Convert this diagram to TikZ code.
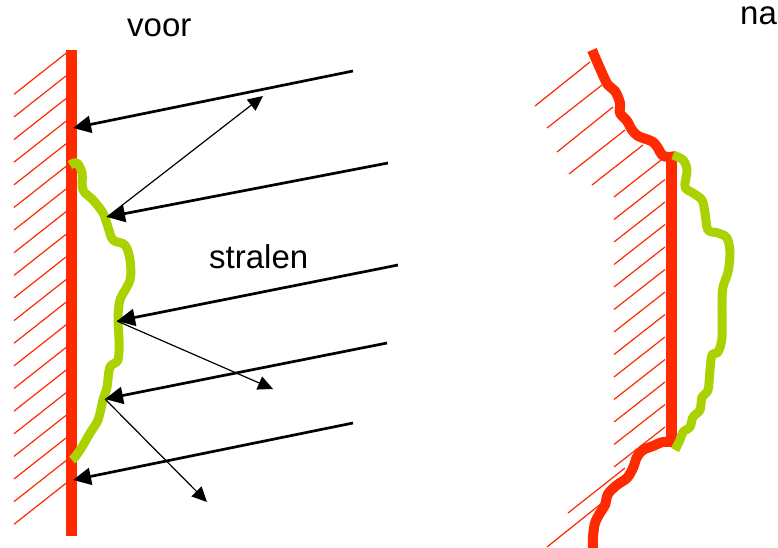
\documentclass[tikz,border=0pt]{standalone}
\usepackage{fontspec}
\setmainfont{Liberation Sans}
\usetikzlibrary{arrows.meta}
\definecolor{wallred}{HTML}{FF2A00}
\definecolor{dirtgreen}{HTML}{AAD200}
\tikzset{
  hatch/.style={draw=wallred, line width=1.2pt},
  wall/.style={draw=wallred, line width=11pt, line cap=butt},
  wavyred/.style={draw=wallred, line width=10pt, line cap=butt, line join=round},
  dirt/.style={draw=dirtgreen, line width=9pt, line cap=butt, line join=round},
  ray/.style={draw=black, line width=2.7pt, -{Triangle[length=18pt,width=17pt]}},
  refl/.style={draw=black, line width=1.2pt, -{Triangle[length=15pt,width=14pt]}},
  lbl/.style={inner sep=0pt, anchor=base west, font=\fontsize{33}{36}\selectfont}
}
\begin{document}
\begin{tikzpicture}[x=1pt,y=-1pt]
\useasboundingbox (0,0) rectangle (778,548);
% ---------- left: voor ----------
\foreach \i in {0,...,19}{
  \draw[hatch] (14,94.3+\i*22.63) -- (66,53.3+\i*22.63);
}
\draw[wall] (71.5,50) -- (71.5,536);
\draw[dirt] plot[smooth, tension=0.55] coordinates {(70,165) (77,163) (82,173) (83,190) (93,200) (103,213) (108,227) (113,240) (125,245) (130,260) (130,280) (120,300) (118,320) (119,340) (118,360) (110,367) (107,387) (103,400) (98,420) (90,433) (82,447) (75,457) (72,460)};

\coordinate (s1) at (353,71);  \coordinate (t1) at (73,128);
\coordinate (s2) at (388,163); \coordinate (t2) at (107,217);
\coordinate (s3) at (398,265); \coordinate (t3) at (117,321);
\coordinate (s4) at (387,343); \coordinate (t4) at (105,399);
\coordinate (s5) at (353,423); \coordinate (t5) at (73,480);
\coordinate (r1) at (263,96);
\coordinate (r2) at (273,389);
\coordinate (r3) at (207,502);

\draw[ray] (s1) -- (t1);
\draw[ray] (s2) -- (t2);
\draw[ray] (s3) -- (t3);
\draw[ray] (s4) -- (t4);
\draw[ray] (s5) -- (t5);
\draw[refl] (t2) -- (r1);
\draw[refl] (t3) -- (r2);
\draw[refl] (t4) -- (r3);

\node[lbl] (voor) at (127,37) {voor};
\node[lbl] (stralen) at (209,268) {stralen};

% ---------- right: na ----------
\draw[hatch] (535,106) -- (590,62);
\draw[hatch] (547,128) -- (602,85);
\draw[hatch] (557,152) -- (613,107);
\draw[hatch] (569,174) -- (625,130);
\draw[hatch] (592,185) -- (643,145);
\foreach \i in {0,...,12}{
  \draw[hatch] (614,197+\i*22.5) -- (665,157+\i*22.5);
}
\draw[hatch] (568,513) -- (625,468);
\draw[hatch] (547,547) -- (602,503);

\draw[wall] (671,153) -- (671,445);
\draw[wavyred] plot[smooth, tension=0.55] coordinates {(592,50) (602,73) (608,85) (615,91) (620,103) (620,113) (627,121) (632,130) (638,136) (646,139) (653,142) (658,148) (662,155) (668,157) (676,156)};
\draw[wavyred] plot[smooth, tension=0.55] coordinates {(676,442) (663,442) (653,446) (643,450) (637,457) (633,468) (627,478) (617,485) (608,494) (605,505) (600,513) (595,523) (593,537) (593,549)};
\draw[dirt] plot[smooth, tension=0.55] coordinates {(673,155) (683,160) (687,170) (685,187) (693,193) (702,200) (705,213) (708,230) (718,233) (727,238) (730,253) (728,272) (723,287) (722,303) (722,337) (718,352) (712,355) (710,370) (708,390) (702,397) (700,410) (693,417) (690,427) (683,432) (680,440) (675,450)};

\node[lbl] (na) at (740,25) {na};
\end{tikzpicture}
\end{document}
